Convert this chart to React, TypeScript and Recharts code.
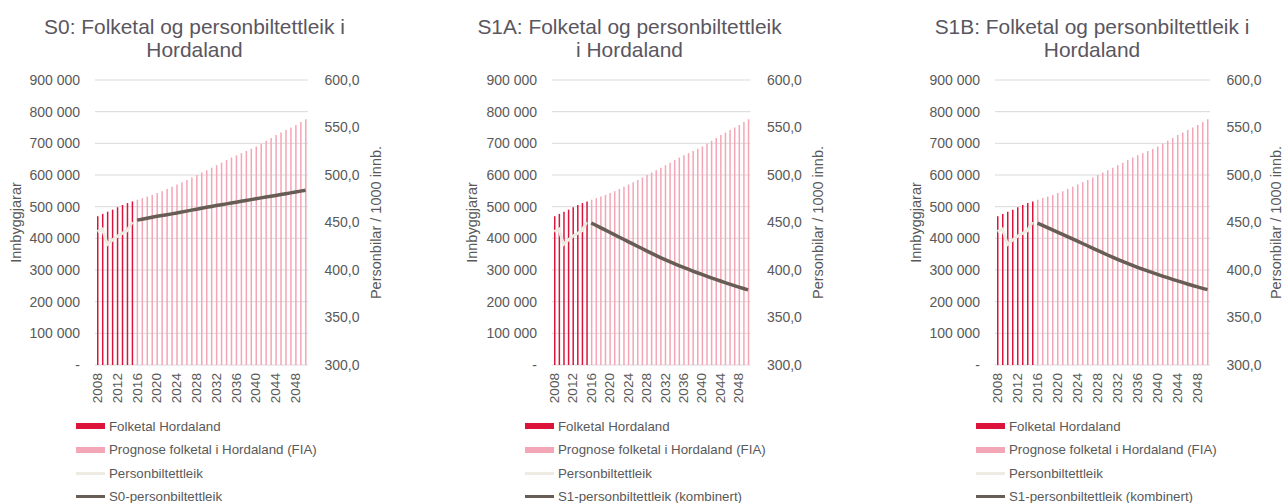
import React from 'react';
import { ComposedChart, Bar, Line, XAxis, YAxis, CartesianGrid, Label } from 'recharts';

const years = ['2008','2009','2010','2011','2012','2013','2014','2015','2016','2017','2018','2019','2020','2021','2022','2023','2024','2025','2026','2027','2028','2029','2030','2031','2032','2033','2034','2035','2036','2037','2038','2039','2040','2041','2042','2043','2044','2045','2046','2047','2048','2049','2050'];

// 2008-2015
const folketalHordaland = [469681, 477175, 484240, 490570, 498110, 505246, 511357, 516497];
// 2016-2050
const prognoseFolketal = [522000, 527000, 532000, 537000, 543000, 549000, 556000, 563000, 570000, 577000, 584000, 592000, 600000, 608000, 615000, 623000, 631000, 639000, 647000, 655000, 662000, 669000, 676000, 683000, 690000, 699000, 708000, 717000, 726000, 734000, 742000, 750000, 758000, 767000, 776000];
// 2008-2015
const personbiltettleik = [440.5, 443.0, 427.0, 431.5, 435.5, 438.5, 441.5, 450.5];
// 2016-2050
const s0Tettleik = [452.5, 453.5, 454.5, 455.5, 456.5, 457.3, 458.2, 459.1, 460.0, 461.0, 462.0, 463.0, 464.0, 465.0, 466.0, 466.9, 467.8, 468.7, 469.6, 470.5, 471.4, 472.3, 473.2, 474.1, 475.0, 475.9, 476.8, 477.7, 478.5, 479.4, 480.3, 481.2, 482.1, 483.0, 484.0];
const s1aTettleik = [449.5, 447.1, 444.6, 442.2, 439.7, 437.3, 434.8, 432.4, 429.9, 427.5, 425.0, 422.6, 420.1, 417.7, 415.4, 413.1, 410.9, 408.8, 406.7, 404.7, 402.7, 400.8, 398.9, 397.1, 395.3, 393.5, 391.8, 390.1, 388.4, 386.7, 385.1, 383.5, 382.0, 380.5, 379.1];
const s1bTettleik = [449.3, 447.0, 444.6, 442.2, 439.9, 437.5, 435.1, 432.7, 430.3, 427.9, 425.5, 423.0, 420.6, 418.2, 415.8, 413.5, 411.2, 409.0, 406.9, 404.8, 402.8, 400.9, 399.0, 397.2, 395.4, 393.6, 391.9, 390.2, 388.5, 386.9, 385.3, 383.7, 382.2, 380.7, 379.3];

const leftTicks = [0, 100000, 200000, 300000, 400000, 500000, 600000, 700000, 800000, 900000];
const rightTicks = [300, 350, 400, 450, 500, 550, 600];

const FONT = '"Liberation Sans", Arial, "DejaVu Sans", sans-serif';
const TEXT = '#595959';
const C_HIST = '#DC143C';
const C_PROG = '#F3A6B5';
const C_BIL = '#EEEBE3';
const C_SCEN = '#675D54';
const GRID = '#DCD8DE';

const HIST_N = folketalHordaland.length;

const buildData = (scenario: number[]) =>
  years.map((year, i) => ({
    year,
    folketal: i < HIST_N ? folketalHordaland[i] : null,
    prognose: i >= HIST_N ? prognoseFolketal[i - HIST_N] : null,
    bil: i < HIST_N ? personbiltettleik[i] : null,
    scen: i >= HIST_N ? scenario[i - HIST_N] : null,
  }));

const fmtLeft = (v: number) => (v === 0 ? '-' : String(v).replace(/\B(?=(\d{3})+(?!\d))/g, ' '));
const fmtRight = (v: number) => v.toFixed(1).replace('.', ',');

const YearTick = (props: any) => {
  const { x, y, payload } = props;
  return (
    <text
      x={x}
      y={y}
      transform={`rotate(-90, ${x}, ${y})`}
      textAnchor="end"
      dominantBaseline="central"
      fill={TEXT}
      fontSize={13.6}
      fontFamily={FONT}
    >
      {payload.value}
    </text>
  );
};

const axisTitle = (text: string, dx: number) => (props: any) => {
  const vb = props.viewBox || { x: 0, y: 80, width: 0, height: 285 };
  const cx = vb.x + dx;
  const cy = vb.y + vb.height / 2;
  return (
    <text
      x={cx}
      y={cy}
      transform={`rotate(-90, ${cx}, ${cy})`}
      textAnchor="middle"
      dominantBaseline="central"
      fill={TEXT}
      fontSize={14.5}
      fontFamily={FONT}
    >
      {text}
    </text>
  );
};

type PanelProps = {
  plotLeft: number;
  plotWidth: number;
  titleLines: string[];
  titleCenter: number;
  scenario: number[];
  scenarioName: string;
  legendLeft: number;
  rightTitleDx: number;
};

const LEFT_W = 95;
const RIGHT_W = 84;
const CH_H = 410;

const Panel = ({ plotLeft, plotWidth, titleLines, titleCenter, scenario, scenarioName, legendLeft, rightTitleDx }: PanelProps) => {
  const data = buildData(scenario);
  const width = LEFT_W + plotWidth + RIGHT_W;
  const legendItems = [
    { name: 'Folketal Hordaland', color: C_HIST, h: 6 },
    { name: 'Prognose folketal i Hordaland (FIA)', color: C_PROG, h: 6 },
    { name: 'Personbiltettleik', color: C_BIL, h: 3 },
    { name: scenarioName, color: C_SCEN, h: 3.5 },
  ];
  const rowY = [426, 449.5, 473, 496.5];
  return (
    <>
      {titleLines.map((t, i) => (
        <div
          key={t}
          style={{
            position: 'absolute',
            left: titleCenter - 250,
            width: 500,
            top: 15 + i * 23,
            height: 23,
            lineHeight: '23px',
            textAlign: 'center',
            fontSize: 20.9,
            fontFamily: FONT,
            color: '#5A5660',
            whiteSpace: 'nowrap',
          }}
        >
          {t}
        </div>
      ))}
      <div style={{ position: 'absolute', left: plotLeft - LEFT_W, top: 0, width, height: CH_H }}>
        <ComposedChart
          width={width}
          height={CH_H}
          data={data}
          margin={{ top: 80, right: 0, bottom: 0, left: 0 }}
          barCategoryGap={0}
        >
          <CartesianGrid yAxisId="left" vertical={false} stroke={GRID} strokeWidth={1} />
          <XAxis
            dataKey="year"
            interval={3}
            height={45}
            tick={<YearTick />}
            tickLine={false}
            axisLine={false}
            tickSize={0}
            tickMargin={8}
          />
          <YAxis
            yAxisId="left"
            orientation="left"
            width={LEFT_W}
            domain={[0, 900000]}
            ticks={leftTicks}
            tickFormatter={fmtLeft}
            axisLine={false}
            tickLine={false}
            tickSize={0}
            tickMargin={15}
            interval={0}
            tick={{ fill: TEXT, fontSize: 14, fontFamily: FONT }}
          >
            <Label content={axisTitle('Innbyggjarar', 15.5)} />
          </YAxis>
          <YAxis
            yAxisId="right"
            orientation="right"
            width={RIGHT_W}
            domain={[300, 600]}
            ticks={rightTicks}
            tickFormatter={fmtRight}
            axisLine={false}
            tickLine={false}
            tickSize={0}
            tickMargin={16.5}
            interval={0}
            tick={{ fill: TEXT, fontSize: 14, fontFamily: FONT, textAnchor: 'start' }}
          >
            <Label content={axisTitle('Personbilar / 1000 innb.', rightTitleDx)} />
          </YAxis>
          <Bar yAxisId="left" dataKey="folketal" stackId="pop" fill={C_HIST} barSize={1.5} isAnimationActive={false} />
          <Bar yAxisId="left" dataKey="prognose" stackId="pop" fill={C_PROG} barSize={1.4} isAnimationActive={false} />
          <Line yAxisId="right" dataKey="bil" stroke={C_BIL} strokeWidth={3} dot={false} isAnimationActive={false} />
          <Line yAxisId="right" dataKey="scen" stroke={C_SCEN} strokeWidth={3.5} dot={false} isAnimationActive={false} />
        </ComposedChart>
      </div>
      {legendItems.map((it, i) => (
        <div
          key={it.name}
          style={{
            position: 'absolute',
            left: legendLeft,
            top: rowY[i] - 10,
            height: 20,
            display: 'flex',
            alignItems: 'center',
            whiteSpace: 'nowrap',
            fontFamily: FONT,
            fontSize: 13.3,
            color: TEXT,
          }}
        >
          <span style={{ display: 'inline-block', width: 29, height: it.h, background: it.color, marginRight: 4 }} />
          <span>{it.name}</span>
        </div>
      ))}
    </>
  );
};

export default function App() {
  return (
    <div
      style={{
        position: 'absolute',
        left: 0,
        top: 0,
        width: 1284,
        height: 503,
        overflow: 'hidden',
        background: '#FFFFFF',
      }}
    >
      <Panel
        plotLeft={95}
        plotWidth={213}
        titleLines={['S0: Folketal og personbiltettleik i', 'Hordaland']}
        titleCenter={194.5}
        scenario={s0Tettleik}
        scenarioName="S0-personbiltettleik"
        legendLeft={76}
        rightTitleDx={68}
      />
      <Panel
        plotLeft={552.3}
        plotWidth={198.4}
        titleLines={['S1A: Folketal og personbiltettleik', 'i Hordaland']}
        titleCenter={629.5}
        scenario={s1aTettleik}
        scenarioName="S1-personbiltettleik (kombinert)"
        legendLeft={525}
        rightTitleDx={67.8}
      />
      <Panel
        plotLeft={995}
        plotWidth={215}
        titleLines={['S1B: Folketal og personbiltettleik i', 'Hordaland']}
        titleCenter={1092}
        scenario={s1bTettleik}
        scenarioName="S1-personbiltettleik (kombinert)"
        legendLeft={976}
        rightTitleDx={65.5}
      />
    </div>
  );
}
